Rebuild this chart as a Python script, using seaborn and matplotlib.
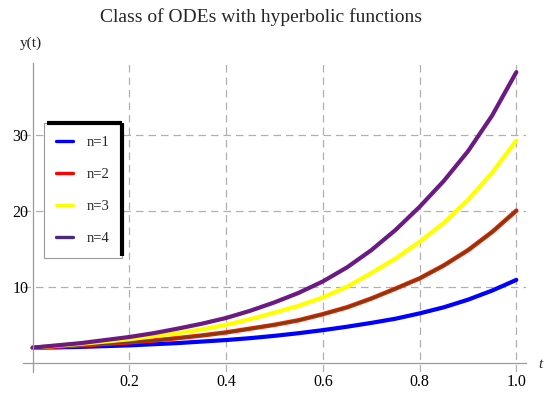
import numpy as np
import pandas as pd
import matplotlib
matplotlib.use('Agg')
import matplotlib.pyplot as plt
from matplotlib.lines import Line2D
from matplotlib.ticker import MultipleLocator
import seaborn as sns

# values
t = [0.0, 0.05, 0.1, 0.15, 0.2, 0.25, 0.3, 0.35, 0.4, 0.45, 0.5,
     0.55, 0.6, 0.65, 0.7, 0.75, 0.8, 0.85, 0.9, 0.95, 1.0]
y_n1 = [2.0, 2.03, 2.1, 2.2, 2.3, 2.45, 2.6, 2.8, 3.0, 3.25, 3.55,
        3.9, 4.3, 4.75, 5.25, 5.8, 6.5, 7.3, 8.3, 9.5, 10.9]
y_n2 = [2.0, 2.15, 2.3, 2.5, 2.7, 2.95, 3.25, 3.6, 4.0, 4.5, 5.0,
        5.6, 6.4, 7.3, 8.45, 9.75, 11.1, 12.8, 14.8, 17.2, 20.0]
y_n3 = [2.0, 2.25, 2.5, 2.8, 3.1, 3.5, 3.9, 4.4, 5.0, 5.75, 6.6,
        7.5, 8.6, 10.0, 11.8, 13.7, 15.9, 18.4, 21.4, 25.0, 29.2]
y_n4 = [2.0, 2.3, 2.6, 3.0, 3.4, 3.9, 4.5, 5.15, 5.9, 6.85, 7.95,
        9.2, 10.7, 12.55, 14.8, 17.45, 20.5, 23.9, 27.8, 32.5, 38.2]
labels = ['n=1', 'n=2', 'n=3', 'n=4']
x_ticks = [0.2, 0.4, 0.6, 0.8, 1.0]
x_tick_labels = ['0.2', '0.4', '0.6', '0.8', '1.0']
y_ticks = [10, 20, 30]

df = pd.DataFrame({'t': t, 'n=1': y_n1, 'n=2': y_n2, 'n=3': y_n3, 'n=4': y_n4})

sns.set_style('white')
plt.rcParams['font.family'] = ['Liberation Serif', 'DejaVu Serif']

fig = plt.figure(figsize=(5.5, 3.93), dpi=100)
ax = fig.add_axes([23 / 550, 21 / 393, 503 / 550, 309 / 393])

grey = '#9a9a9a'

# curves
sns.lineplot(data=df, x='t', y='n=1', ax=ax, color='#0000ff', lw=3)
sns.lineplot(data=df, x='t', y='n=2', ax=ax, color='#ff1a00', lw=3.2)
sns.lineplot(data=df, x='t', y='n=2', ax=ax, color='#7a3f10', lw=1.8)
sns.lineplot(data=df, x='t', y='n=3', ax=ax, color='#ffff00', lw=3)
sns.lineplot(data=df, x='t', y='n=4', ax=ax, color='#6a1a82', lw=3)

ax.set_xlim(-0.02, 1.02)
ax.set_ylim(-1.2, 39.4)
ax.set_xlabel('')
ax.set_ylabel('')

# mathematica style axes through the origin
for side in ['top', 'right']:
    ax.spines[side].set_visible(False)
ax.spines['left'].set_position(('data', 0))
ax.spines['bottom'].set_position(('data', 0))
for side in ['left', 'bottom']:
    ax.spines[side].set_color(grey)
    ax.spines[side].set_linewidth(0.9)

ax.set_xticks(x_ticks)
ax.set_xticklabels(x_tick_labels)
ax.set_yticks(y_ticks)
ax.xaxis.set_minor_locator(MultipleLocator(0.05))
ax.yaxis.set_minor_locator(MultipleLocator(2))
ax.tick_params(which='both', direction='in', color=grey, labelsize=11.5, labelcolor='black')
ax.tick_params(which='major', length=5, width=0.9)
ax.tick_params(which='minor', length=3, width=0.8)
ax.tick_params(axis='x', pad=8)
ax.tick_params(axis='y', pad=3)

ax.grid(True, which='major', color='#b0b0b0', linestyle=(0, (6, 4)), lw=0.9)

# axis labels and title
fig.text(31 / 550, 1 - 43 / 393, 'y(t)', fontsize=11, ha='center', va='center')
fig.text(540 / 550, 1 - 364 / 393, 't', fontsize=11, style='italic', ha='center', va='center')
fig.text(261 / 550, 1 - 17 / 393, 'Class of ODEs with hyperbolic functions', fontsize=14,
         ha='center', va='center')

# legend
handles = [Line2D([], [], color=c, lw=2.4) for c in ['#0000ff', '#ff0000', '#ffff00', '#4b2a7e']]
leg = ax.legend(handles, labels, loc='upper left', bbox_to_anchor=(44 / 550, 1 - 123 / 393),
                bbox_transform=fig.transFigure, borderaxespad=0, fontsize=10.5,
                handlelength=1.15, handletextpad=0.9, labelspacing=1.3, borderpad=0.85,
                fancybox=False, framealpha=1, edgecolor=grey)
leg.get_frame().set_linewidth(0.8)

fig.canvas.draw()
bb = leg.get_window_extent().transformed(fig.transFigure.inverted())
fig.add_artist(Line2D([bb.x0 + 0.005, bb.x1], [bb.y1, bb.y1], color='black', lw=3,
                      transform=fig.transFigure, solid_capstyle='butt'))
fig.add_artist(Line2D([bb.x1, bb.x1], [bb.y1, bb.y0 + 0.005], color='black', lw=3,
                      transform=fig.transFigure, solid_capstyle='butt'))

fig.savefig('out.png', dpi=100)
